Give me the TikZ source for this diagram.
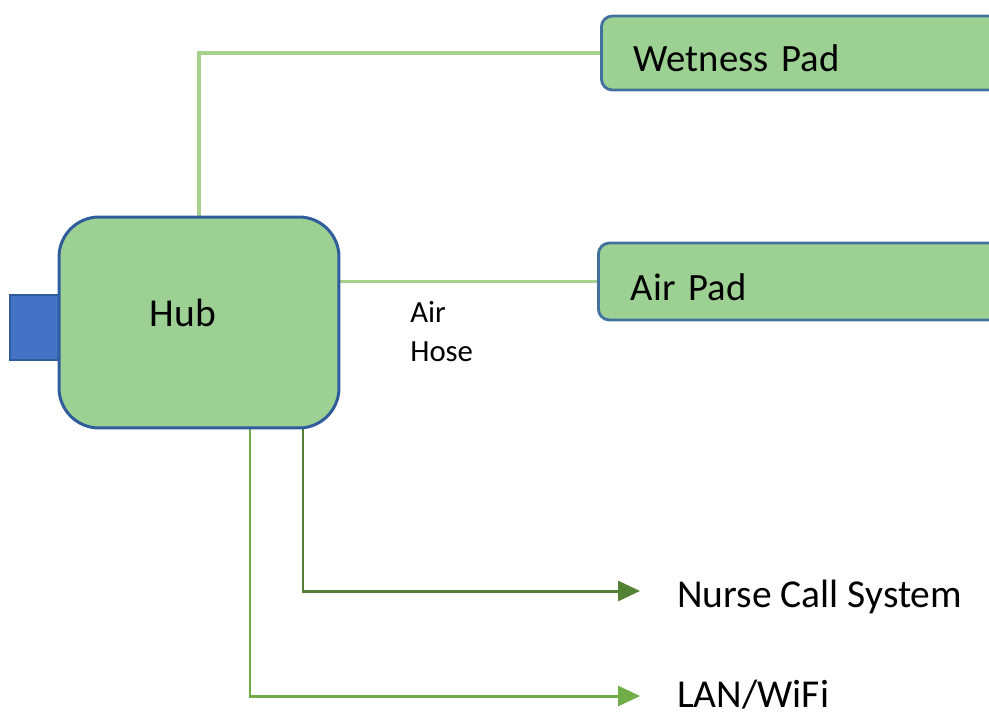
\documentclass[tikz,border=0pt]{standalone}
\usepackage{fontspec}
\setmainfont{Carlito}
\usetikzlibrary{arrows.meta,backgrounds}

\definecolor{boxgreen}{HTML}{9DD193}
\definecolor{hubblue}{HTML}{2F5D9C}
\definecolor{padblue}{HTML}{41719C}
\definecolor{portblue}{HTML}{4472C4}
\definecolor{hoselight}{HTML}{A9D18E}
\definecolor{nursedark}{HTML}{548235}
\definecolor{langreen}{HTML}{70AD47}

\tikzset{
  hubbox/.style={draw=hubblue, line width=1.7pt, fill=boxgreen, rounded corners=0.8cm,
    minimum width=5.6cm, minimum height=4.22cm},
  padbox/.style={draw=padblue, line width=1.6pt, fill=boxgreen, rounded corners=0.22cm,
    anchor=west, minimum width=8.4cm, inner xsep=0.64cm, text width=7.1cm, align=left,
    text height=0.76cm, text depth=0cm, font=\fontsize{22}{26}\selectfont},
  portbox/.style={draw=hubblue, line width=1pt, fill=portblue,
    minimum width=0.98cm, minimum height=1.3cm},
  bigtext/.style={inner sep=0pt, font=\fontsize{22.5}{26}\selectfont},
  hosetext/.style={inner sep=0pt, align=left, font=\fontsize{17.5}{22}\selectfont},
  lightline/.style={draw=hoselight, line width=2.1pt},
  outarrow/.style={line width=1.7pt, -{Triangle[length=0.44cm,width=0.4cm]}},
}

\begin{document}
\begin{tikzpicture}[x=0.02cm, y=-0.02cm]
  \useasboundingbox (0,0) rectangle (989,716);

  % hub with its port
  \node[portbox] (port) at (34.5,327.5) {};
  \node[hubbox, label={[bigtext, shift={(-0.32cm,0.19cm)}]center:Hub}] (hub) at (199,322.5) {};

  % pads
  \node[padbox, minimum height=1.48cm] (wetpad) at (600,53) {Wetness Pad};
  \node[padbox, minimum height=1.54cm] (airpad) at (597,281.5) {Air Pad};

  \node[hosetext, anchor=base west] (hose) at (410,361) {Air\\Hose};

  % outputs
  \node[bigtext, anchor=base west] (nurse) at (677,607) {Nurse Call System};
  \node[bigtext, anchor=base west] (lan) at (677,707) {LAN/WiFi};
  \coordinate (ncend) at (640,591);
  \coordinate (lanend) at (640,696);

  \begin{scope}[on background layer]
    \draw[lightline] (hub.north) |- (wetpad.west);
    \draw[lightline] (hub.east |- airpad.west) -- (airpad.west);
    \draw[outarrow, nursedark] (hub.south) ++(104,0) |- (ncend);
    \draw[outarrow, langreen] (hub.south) ++(51,0) |- (lanend);
  \end{scope}
\end{tikzpicture}
\end{document}
